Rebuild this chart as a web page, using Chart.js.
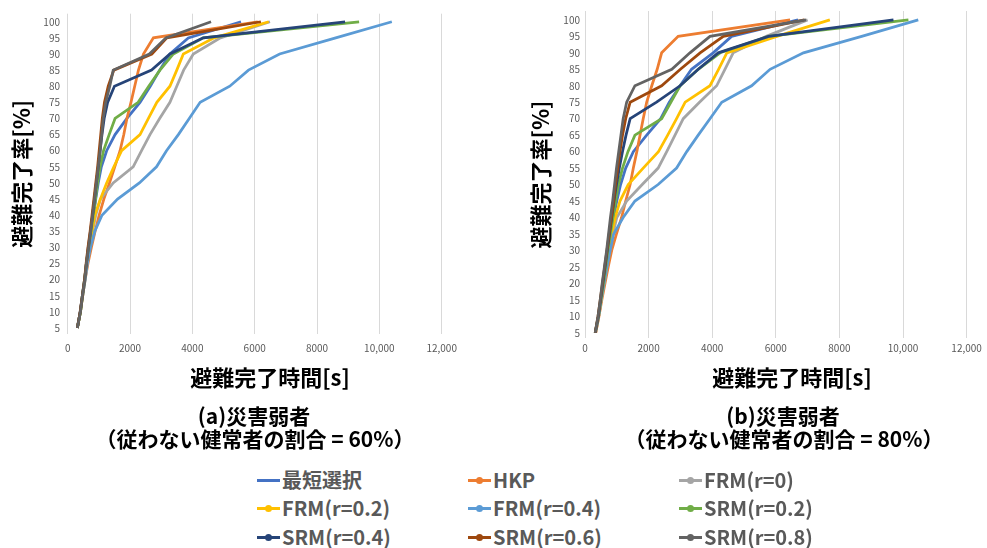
<!DOCTYPE html>
<html lang="ja">
<head>
<meta charset="utf-8">
<title>避難完了時間</title>
<script src="https://cdn.jsdelivr.net/npm/chart.js@4/dist/chart.umd.min.js"></script>
<style>
  html, body { margin: 0; padding: 0; background: #fff; }
  body { width: 987px; height: 548px; position: relative; overflow: hidden; font-family: "Noto Sans CJK JP", "Noto Sans", sans-serif; }
  canvas { position: absolute; top: 0; }
  #chart-a { left: 0; }
  #chart-b { left: 520px; }
  .xtitle, .caption { position: absolute; font-weight: bold; color: #000; white-space: nowrap; transform: translate(-50%, -50%); line-height: 1; }
  .xtitle { font-size: 22px; top: 376px; }
  .caption { font-size: 21px; }
  .legend-item { position: absolute; display: flex; align-items: center; transform: translateY(-50%); font-size: 20px; font-weight: bold; color: #595959; white-space: nowrap; line-height: 1; }
  .legend-mark { position: relative; width: 23px; height: 3px; margin-right: 2px; }
  .legend-mark.dot::after { content: ""; position: absolute; left: 8px; top: -2px; width: 7px; height: 7px; border-radius: 50%; background: inherit; }
</style>
</head>
<body>
<canvas id="chart-a" width="470" height="362"></canvas>
<canvas id="chart-b" width="467" height="362"></canvas>

<div class="xtitle" style="left:270px">避難完了時間[s]</div>
<div class="xtitle" style="left:792px">避難完了時間[s]</div>
<div class="caption" style="left:254px; top:415px">(a)災害弱者</div>
<div class="caption" style="left:255px; top:438px">（従わない健常者の割合 = 60%）</div>
<div class="caption" style="left:783px; top:415px">(b)災害弱者</div>
<div class="caption" style="left:784px; top:438px">（従わない健常者の割合 = 80%）</div>
<div id="legend"></div>

<script>
// completion level (y) of every point, 5% steps
const completionPct = [5, 10, 15, 20, 25, 30, 35, 40, 45, 50, 55, 60, 65, 70, 75, 80, 85, 90, 95, 100];
const xTicks = [0, 2000, 4000, 6000, 8000, 10000, 12000];
const yTicks = [5, 10, 15, 20, 25, 30, 35, 40, 45, 50, 55, 60, 65, 70, 75, 80, 85, 90, 95, 100];

const seriesNames = ["最短選択", "HKP", "FRM(r=0)", "FRM(r=0.2)", "FRM(r=0.4)", "SRM(r=0.2)", "SRM(r=0.4)", "SRM(r=0.6)", "SRM(r=0.8)"];
const seriesColors = ["#4472C4", "#ED7D31", "#A5A5A5", "#FFC000", "#5B9BD5", "#70AD47", "#264478", "#9E480E", "#636363"];

// (a) 従わない健常者 60% : completion time [s] at each level
const shortestA = [310, 410, 480, 550, 600, 680, 760, 830, 900, 980, 1080, 1250, 1520, 1900, 2320, 2650, 2950, 3280, 3870, 5560];
const hkpA = [310, 400, 480, 560, 650, 760, 880, 1010, 1160, 1340, 1510, 1680, 1800, 1900, 2030, 2150, 2270, 2430, 2750, 6100];
const frm0A = [310, 410, 480, 560, 620, 710, 800, 900, 1050, 1460, 2100, 2370, 2640, 2950, 3280, 3500, 3720, 4030, 4900, 6490];
const frm02A = [310, 410, 480, 550, 610, 690, 780, 870, 1050, 1250, 1480, 1730, 2320, 2590, 2860, 3280, 3500, 3710, 4700, 6450];
const frm04A = [310, 400, 480, 560, 630, 730, 870, 1100, 1600, 2300, 2850, 3170, 3550, 3900, 4250, 5200, 5800, 6800, 8600, 10400];
const srm02A = [310, 410, 470, 540, 600, 670, 750, 820, 890, 960, 1040, 1150, 1330, 1520, 2260, 2600, 2960, 3390, 4350, 9350];
const srm04A = [310, 400, 470, 540, 600, 660, 730, 800, 860, 920, 980, 1040, 1100, 1170, 1280, 1500, 2690, 3280, 4350, 8900];
const srm06A = [310, 400, 470, 540, 590, 650, 720, 780, 840, 900, 960, 1010, 1060, 1110, 1180, 1300, 1480, 2700, 3180, 6200];
const srm08A = [310, 410, 470, 550, 600, 670, 740, 800, 860, 920, 980, 1040, 1090, 1140, 1220, 1350, 1460, 2620, 3150, 4600];

// (b) 従わない健常者 80%
const shortestB = [330, 430, 510, 590, 670, 740, 820, 900, 1000, 1120, 1280, 1520, 1940, 2380, 2650, 2990, 3350, 4030, 4610, 6700];
const hkpB = [340, 440, 530, 630, 730, 840, 990, 1150, 1280, 1420, 1520, 1630, 1730, 1830, 1940, 2100, 2270, 2410, 2930, 6450];
const frm0B = [330, 430, 510, 600, 690, 780, 880, 1000, 1310, 1800, 2300, 2570, 2830, 3090, 3600, 4140, 4400, 4660, 5700, 7000];
const frm02B = [330, 430, 510, 590, 670, 750, 840, 950, 1100, 1360, 1830, 2310, 2600, 2880, 3150, 3930, 4200, 4460, 6030, 7700];
const frm04B = [330, 430, 510, 600, 690, 790, 900, 1200, 1570, 2300, 2880, 3200, 3560, 3930, 4300, 5240, 5820, 6870, 8700, 10480];
const srm02B = [320, 420, 500, 580, 650, 720, 800, 880, 960, 1050, 1180, 1350, 1570, 2410, 2700, 2990, 3560, 4250, 5770, 10170];
const srm04B = [320, 420, 490, 560, 630, 700, 770, 840, 910, 990, 1080, 1180, 1290, 1420, 2250, 2990, 3560, 4190, 5770, 9700];
const srm06B = [320, 410, 480, 550, 620, 690, 760, 830, 900, 960, 1030, 1100, 1180, 1280, 1420, 2410, 3000, 3620, 4350, 6900];
const srm08B = [320, 410, 480, 540, 610, 680, 740, 800, 870, 930, 990, 1060, 1130, 1200, 1310, 1570, 2730, 3300, 3930, 6950];

const panelA = [shortestA, hkpA, frm0A, frm02A, frm04A, srm02A, srm04A, srm06A, srm08A];
const panelB = [shortestB, hkpB, frm0B, frm02B, frm04B, srm02B, srm04B, srm06B, srm08B];

const tickFont = { family: "'Noto Sans CJK JP', 'Noto Sans', sans-serif", size: 10 };

function renderPanel(canvasId, times, frame) {
  const datasets = times.map((t, i) => ({
    label: seriesNames[i],
    data: t.map((x, k) => ({ x, y: completionPct[k] })),
    borderColor: seriesColors[i],
    backgroundColor: seriesColors[i],
    borderWidth: 2.75,
    pointRadius: 0,
    showLine: true,
    tension: 0,
    order: times.length - i, // later series on top, like the original
  }));

  return new Chart(document.getElementById(canvasId), {
    type: "scatter",
    data: { datasets },
    options: {
      responsive: false,
      animation: false,
      layout: { padding: { top: frame.top, right: frame.right, left: 0, bottom: 0 } },
      plugins: { legend: { display: false }, tooltip: { enabled: false } },
      scales: {
        x: {
          type: "linear", min: 0, max: 12000,
          afterBuildTicks: (s) => { s.ticks = xTicks.map((v) => ({ value: v })); },
          afterFit: (s) => { s.height = frame.xHeight; },
          grid: { color: "#d9d9d9", lineWidth: 1, drawTicks: false },
          border: { display: false },
          ticks: {
            padding: frame.xPad, maxRotation: 0, autoSkip: false, color: "#595959", font: tickFont,
            callback: (v) => (v >= 10000 ? v.toLocaleString("en-US") : String(v)),
          },
        },
        y: {
          type: "linear", min: frame.yMin, max: frame.yMax,
          afterBuildTicks: (s) => { s.ticks = yTicks.map((v) => ({ value: v })); },
          afterFit: (s) => { s.width = frame.yWidth; },
          grid: { display: false, drawTicks: false },
          border: { display: false },
          ticks: { padding: frame.yPad, color: "#595959", font: tickFont },
          title: {
            display: true, text: "避難完了率[%]", color: "#000",
            font: { family: "'Noto Sans CJK JP', sans-serif", size: 22, weight: "bold" },
            padding: { top: frame.titlePad, bottom: 0 },
          },
        },
      },
    },
  });
}

function renderLegend() {
  const cols = [257, 468, 679];
  const rows = [480, 508, 537];
  const box = document.getElementById("legend");
  box.innerHTML = seriesNames.map((name, i) => {
    const dot = i === 0 ? "" : " dot";
    return `<div class="legend-item" style="left:${cols[i % 3]}px; top:${rows[Math.floor(i / 3)]}px">
      <span class="legend-mark${dot}" style="background:${seriesColors[i]}"></span>${name}</div>`;
  }).join("");
}

renderPanel("chart-a", panelA, { top: 12.6, right: 28.3, xHeight: 28.2, yWidth: 67.7, yMin: 3.2, yMax: 102.5, xPad: 8.6, yPad: 7.7, titlePad: 8.8 });
renderPanel("chart-b", panelB, { top: 10, right: 20.4, xHeight: 24, yWidth: 65, yMin: 3.4, yMax: 102.7, xPad: 4.4, yPad: 5, titlePad: 7.8 });
renderLegend();
</script>
</body>
</html>
